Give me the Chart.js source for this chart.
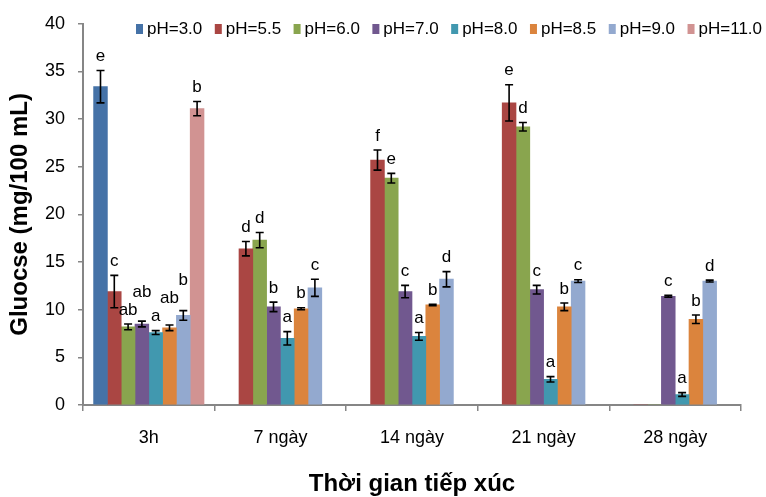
<!DOCTYPE html>
<html>
<head>
<meta charset="utf-8">
<script src="https://cdn.jsdelivr.net/npm/chart.js@4"></script>
<style>
    html, body { margin: 0; padding: 0; background: #fff; }
</style>
</head>
<body>
<canvas id="glucoseBar" width="766" height="497"></canvas>
<script>
//  Categories and series names.
var categories  = ['3h', '7 ngày', '14 ngày', '21 ngày', '28 ngày'];
var seriesNames = ['pH=3.0', 'pH=5.5', 'pH=6.0', 'pH=7.0', 'pH=8.0', 'pH=8.5', 'pH=9.0', 'pH=11.0'];
var seriesColors = ['#4572A7', '#AA4643', '#89A54E', '#71588F', '#4198AF', '#DB843D', '#93A9CF', '#D19392'];

//  Glucose (mg/100 mL).
var ph30  = [33.4, null, null, null, null];
var ph55  = [11.9, 16.4, 25.7, 31.7, 0];
var ph60  = [8.2, 17.3, 23.8, 29.2, 0];
var ph70  = [8.5, 10.3, 11.9, 12.1, 11.4];
var ph80  = [7.6, 7.0, 7.2, 2.7, 1.1];
var ph85  = [8.1, 10.1, 10.5, 10.3, 9.0];
var ph90  = [9.4, 12.3, 13.2, 13.0, 13.0];
var ph110 = [31.1, null, null, null, null];

//  Error bar half-widths.
var err30  = [1.7, null, null, null, null];
var err55  = [1.7, 0.75, 1.05, 1.9, null];
var err60  = [0.3, 0.8, 0.5, 0.45, null];
var err70  = [0.3, 0.5, 0.65, 0.45, 0.1];
var err80  = [0.2, 0.7, 0.4, 0.28, 0.2];
var err85  = [0.3, 0.1, 0.07, 0.4, 0.45];
var err90  = [0.5, 0.9, 0.8, 0.15, 0.1];
var err110 = [0.75, null, null, null, null];

//  Significance letters.
var let30  = ['e', null, null, null, null];
var let55  = ['c', 'd', 'f', 'e', null];
var let60  = ['ab', 'd', 'e', 'd', null];
var let70  = ['ab', 'b', 'c', 'c', 'c'];
var let80  = ['a', 'a', 'a', 'a', 'a'];
var let85  = ['ab', 'b', 'b', 'b', 'b'];
var let90  = ['b', 'c', 'd', 'c', 'd'];
var let110 = ['b', null, null, null, null];

var values  = [ph30, ph55, ph60, ph70, ph80, ph85, ph90, ph110];
var errors  = [err30, err55, err60, err70, err80, err85, err90, err110];
var letters = [let30, let55, let60, let70, let80, let85, let90, let110];

var FONT = "'Liberation Sans', Arial, sans-serif";
Chart.defaults.font.family = FONT;
Chart.defaults.color = '#000';

var datasets = seriesNames.map(function (name, i) {
    return {
        label: name,
        data: values[i],
        errors: errors[i],
        letters: letters[i],
        backgroundColor: seriesColors[i],
        borderWidth: 0,
        barThickness: 13.8,
        skipNull: true
    };
});

//  Error bars + letters drawn on top of the bars.
var errorBarPlugin = {
    id: 'errorBars',
    afterDatasetsDraw: function (chart) {
        var ctx = chart.ctx;
        var yScale = chart.scales.y;
        var placed = {};
        ctx.save();
        ctx.strokeStyle = '#000';
        ctx.lineWidth = 1.6;
        ctx.font = '17px ' + FONT;
        ctx.fillStyle = '#000';
        ctx.textAlign = 'center';
        ctx.textBaseline = 'middle';
        chart.data.datasets.forEach(function (ds, i) {
            var meta = chart.getDatasetMeta(i);
            meta.data.forEach(function (bar, j) {
                var v = ds.data[j];
                var e = ds.errors[j];
                if (v == null || e == null) return;
                var x = bar.x;
                var yTop = yScale.getPixelForValue(v + e);
                var yBot = yScale.getPixelForValue(v - e);
                ctx.beginPath();
                ctx.moveTo(x, yTop); ctx.lineTo(x, yBot);
                ctx.moveTo(x - 4, yTop); ctx.lineTo(x + 4, yTop);
                ctx.moveTo(x - 4, yBot); ctx.lineTo(x + 4, yBot);
                ctx.stroke();

                var txt = ds.letters[j];
                if (!txt) return;
                var w = ctx.measureText(txt).width;
                var h = 17;
                var cy = yTop - 14;
                var boxes = placed[j] || (placed[j] = []);
                var moved = true;
                while (moved) {
                    moved = false;
                    boxes.forEach(function (b) {
                        var l = x - w / 2, r = x + w / 2, t = cy - h / 2, btm = cy + h / 2;
                        if (l < b.r && r > b.l && t < b.b && btm > b.t) {
                            cy = b.t - 1 - h / 2;
                            moved = true;
                        }
                    });
                }
                boxes.push({ l: x - w / 2, r: x + w / 2, t: cy - h / 2, b: cy + h / 2 });
                ctx.fillText(txt, x, cy);
            });
        });
        ctx.restore();
    }
};

//  Legend inside the plot, across the top.
var legendPlugin = {
    id: 'topLegend',
    afterDraw: function (chart) {
        var ctx = chart.ctx;
        ctx.save();
        ctx.font = '17px ' + FONT;
        ctx.textBaseline = 'middle';
        ctx.textAlign = 'left';
        var x = 136;
        var y = 29;
        chart.data.datasets.forEach(function (ds) {
            ctx.fillStyle = ds.backgroundColor;
            ctx.fillRect(x, y - 5, 7, 10);
            ctx.fillStyle = '#000';
            ctx.fillText(ds.label, x + 11, y);
            x += 11 + ctx.measureText(ds.label).width + 12.5;
        });
        ctx.restore();
    }
};

var ctx = document.getElementById('glucoseBar');
var glucoseChart = new Chart(ctx, {
    type: 'bar',
    data: { labels: categories, datasets: datasets },
    options: {
        responsive: false,
        animation: false,
        layout: { padding: { top: 20, right: 25, bottom: 0, left: 0 } },
        plugins: {
            legend: { display: false },
            tooltip: { enabled: false }
        },
        scales: {
            x: {
                offset: true,
                grid: { offset: true, drawOnChartArea: false, drawTicks: true, tickLength: 6, color: '#868686', lineWidth: 1.5 },
                border: { color: '#868686', width: 2 },
                ticks: { color: '#000', font: { size: 18 }, padding: 16, maxRotation: 0 },
                title: {
                    display: true,
                    text: 'Thời gian tiếp xúc',
                    color: '#000',
                    font: { size: 24, weight: 'bold' },
                    padding: { top: 0, bottom: -2 }
                },
                afterFit: function (scale) { scale.height = 92; }
            },
            y: {
                min: 0,
                max: 40,
                grid: { drawOnChartArea: false, drawTicks: true, tickLength: 5, color: '#868686', lineWidth: 1.5 },
                border: { color: '#868686', width: 2 },
                ticks: { stepSize: 5, color: '#000', font: { size: 18 }, padding: 13 },
                title: {
                    display: true,
                    text: 'Gluocse (mg/100 mL)',
                    color: '#000',
                    font: { size: 24, weight: 'bold' },
                    padding: { top: 6, bottom: 0 }
                },
                afterFit: function (scale) { scale.width = 83; }
            }
        }
    },
    plugins: [errorBarPlugin, legendPlugin]
});
</script>
</body>
</html>
